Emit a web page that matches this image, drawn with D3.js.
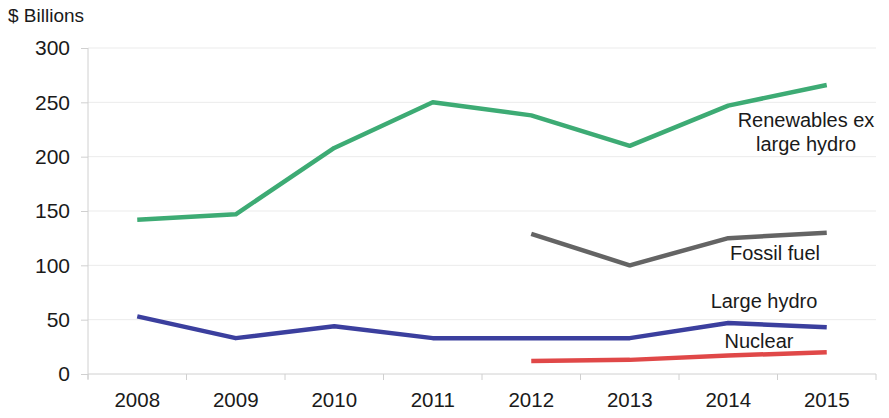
<!DOCTYPE html>
<html><head><meta charset="utf-8">
<script src="https://cdn.jsdelivr.net/npm/d3@7"></script>
<style>body{margin:0;background:#fff;}svg{display:block;font-family:"Liberation Sans",Arial,sans-serif;}</style>
</head><body>
<svg id="c" width="889" height="418"></svg>
<script>
const years = ["2008","2009","2010","2011","2012","2013","2014","2015"];
const yTicks = [0,50,100,150,200,250,300];
const renewables = [142,147,208,250,238,210,247,266];
const fossil = [null,null,null,null,129,100,125,130];
const largeHydro = [53,33,44,33,33,33,47,43];
const nuclear = [null,null,null,null,12,13,17,20];
const seriesNames = ["Renewables ex large hydro","Fossil fuel","Large hydro","Nuclear"];
const seriesColors = ["#3dab74","#646464","#3b3f9e","#e04848"];

const svg = d3.select("#c");
const L = 88, R = 876, T = 48, B = 374;
const x = d3.scaleBand().domain(years).range([L,R]);
const y = d3.scaleLinear().domain([0,300]).range([B,T]);

// gridlines
svg.append("g").selectAll("line").data(yTicks.filter(d=>d>0)).join("line")
  .attr("x1",L).attr("x2",R).attr("y1",d=>y(d)).attr("y2",d=>y(d))
  .attr("stroke","#ebebeb").attr("stroke-width",1);

// y axis
const ya = svg.append("g").attr("transform",`translate(${L},0)`)
  .call(d3.axisLeft(y).tickValues(yTicks).tickSize(7).tickPadding(11));
ya.select(".domain").attr("stroke","#d0d0d0").attr("d",`M-0,${T}V${B+5}`);
ya.selectAll(".tick line").attr("stroke","#d0d0d0");
ya.selectAll("text").attr("font-size",21).attr("fill","#1a1a1a").attr("font-family","Liberation Sans, Arial, sans-serif");

// x axis
const xa = svg.append("g").attr("transform",`translate(0,${B})`)
  .call(d3.axisBottom(x).tickSize(0).tickPadding(18));
xa.select(".domain").attr("stroke","#d0d0d0").attr("d",`M${L},0H${R}`);
xa.selectAll("text").attr("font-size",20.5).attr("fill","#1a1a1a").attr("font-family","Liberation Sans, Arial, sans-serif");
const bounds = years.map(d=>x(d)+x.bandwidth()).concat([L]);
svg.append("g").selectAll("line").data(bounds).join("line")
  .attr("x1",d=>d).attr("x2",d=>d).attr("y1",B).attr("y2",B+6)
  .attr("stroke","#d0d0d0");

// lines
const all = [renewables,fossil,largeHydro,nuclear];
const line = d3.line().defined(d=>d.v!=null)
  .x(d=>x(d.year)+x.bandwidth()/2).y(d=>y(d.v));
all.forEach((s,i)=>{
  svg.append("path").datum(years.map((yr,j)=>({year:yr,v:s[j]})))
    .attr("d",line).attr("fill","none").attr("stroke",seriesColors[i])
    .attr("stroke-width",4.5).attr("stroke-linejoin","round");
});

// labels
const lab = (t,xx,yy)=>svg.append("text").attr("x",xx).attr("y",yy).attr("text-anchor","middle")
  .attr("font-size",20).attr("fill","#1a1a1a").text(t);
lab("Renewables ex",806,127);
lab("large hydro",806,151);
lab("Fossil fuel",775,260);
lab("Large hydro",764,308);
lab("Nuclear",759,348);

svg.append("text").attr("x",8).attr("y",22).attr("font-size",19).attr("fill","#1a1a1a").text("$ Billions");
</script>
</body></html>
